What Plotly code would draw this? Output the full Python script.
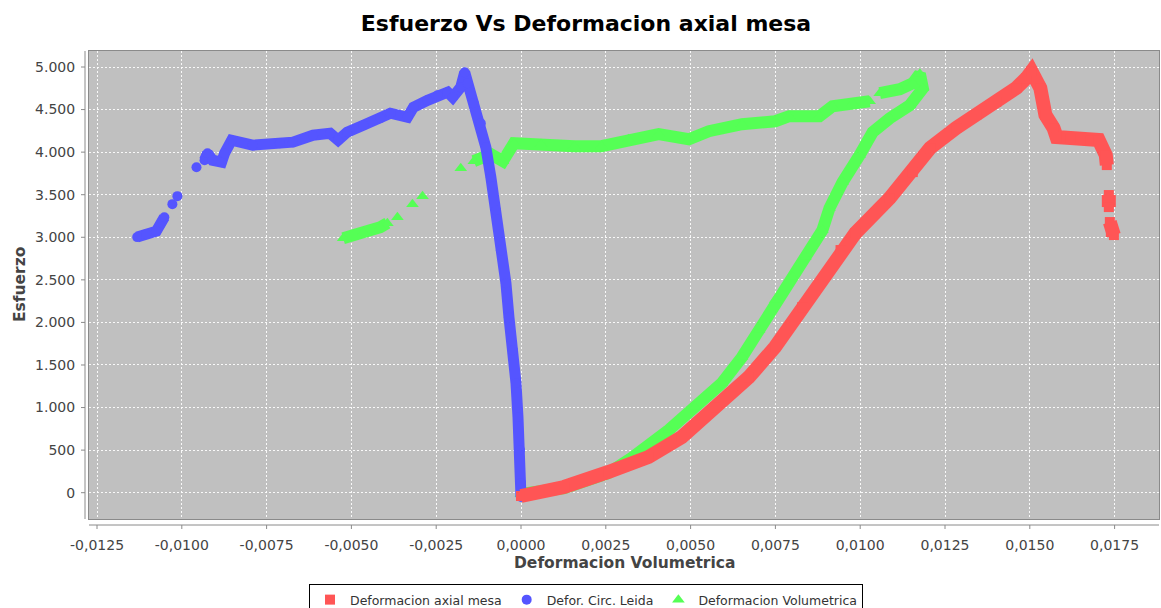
import plotly.graph_objects as go

# ---------------- data ----------------
# Series 1: Deformacion axial mesa (red squares)
red_x = [0.0, 0.00127, 0.00258, 0.00376, 0.00474, 0.00572, 0.00672, 0.00749,
         0.00829, 0.00942, 0.00986, 0.01087, 0.01155, 0.01206, 0.01283, 0.01342,
         0.01401, 0.01460, 0.01490, 0.01505, 0.01531, 0.01546, 0.01570, 0.01579,
         0.01620, 0.01680, 0.01703, 0.01724, 0.01727, None, 0.01733, 0.01733,
         None, 0.01736, 0.01739, 0.01748]
red_y = [-39, 67, 243, 419, 654, 1006, 1358, 1711,
         2180, 2850, 3050, 3461, 3766, 4048, 4283, 4436,
         4589, 4753, 4870, 4950, 4753, 4436, 4283, 4177,
         4166, 4142, 4142, 3966, 3848, None, 3496, 3355,
         None, 3179, 3062, 3026]

# Series 2: Defor. Circ. Leida (blue circles)
blue_x = [-0.011315, -0.011048, -0.010752, -0.010515, None,
          -0.010278, None, -0.010130, None, -0.009567, None,
          -0.009330, -0.009242, -0.009094, -0.008827, -0.008738, -0.008531,
          -0.007909, -0.007109, -0.006724, -0.006132, -0.005628, -0.005391,
          -0.005125, -0.004650, -0.004147, -0.003851, -0.003347, -0.003170,
          -0.002755, -0.002459, -0.002163, -0.002014, -0.001777, -0.001659,
          -0.001570, -0.001392, -0.001185, -0.001037, -0.000889, -0.000741,
          -0.000592, -0.000444, -0.000355, -0.000237, -0.000148, -0.000089,
          -0.000030, 0.0, 0.0]
blue_y = [3002, 3037, 3072, 3236, None,
          3389, None, 3483, None, 3823, None,
          3905, 3987, 3905, 3882, 3987, 4140,
          4082, 4105, 4117, 4199, 4222, 4140,
          4234, 4316, 4398, 4457, 4410, 4527,
          4609, 4668, 4704, 4645, 4762, 4938,
          4809, 4574, 4340, 4058, 3706, 3318,
          2848, 2461, 2062, 1674, 1288, 889,
          501, 114, -50]

# Series 3: Deformacion Volumetrica (green triangles)
green_x = [0.0, 0.001274, 0.002577, 0.003258, 0.004354, 0.005124, 0.005924,
           0.006516, 0.007020, 0.007494, 0.007997, 0.008383, 0.008886, 0.009094,
           0.009479, 0.009982, 0.010367, 0.010870, 0.011463, 0.011848, 0.011759,
           0.011552, 0.011167, 0.010575, None,
           0.010279, 0.009775, 0.009183, 0.008798, 0.007909, 0.007494, 0.006516,
           0.005539, 0.004947, 0.004058, 0.003169, 0.002370, 0.001570, 0.000592,
           -0.000207, -0.000533, -0.000889, -0.001392, None,
           -0.001777, None, -0.002903, None, -0.003199, None, -0.003643, None,
           -0.003939, -0.004147, -0.004650, -0.005243]
green_y = [-15, 55, 231, 407, 736, 1006, 1288,
           1593, 1910, 2262, 2532, 2767, 3084, 3342,
           3647, 3964, 4234, 4398, 4551, 4750, 4920,
           4809, 4739, 4692, None,
           4598, 4574, 4539, 4422, 4422, 4363, 4328,
           4246, 4152, 4211, 4152, 4070, 4070, 4093,
           4105, 3894, 3976, 3894, None,
           3812, None, 3483, None, 3389, None, 3236, None,
           3166, 3119, 3060, 2990]

x_tick_vals = [-0.0125, -0.0100, -0.0075, -0.0050, -0.0025, 0.0, 0.0025,
               0.0050, 0.0075, 0.0100, 0.0125, 0.0150, 0.0175]
x_tick_text = ["-0,0125", "-0,0100", "-0,0075", "-0,0050", "-0,0025", "0,0000",
               "0,0025", "0,0050", "0,0075", "0,0100", "0,0125", "0,0150", "0,0175"]
y_tick_vals = [0, 500, 1000, 1500, 2000, 2500, 3000, 3500, 4000, 4500, 5000]
y_tick_text = ["0", "500", "1.000", "1.500", "2.000", "2.500", "3.000",
               "3.500", "4.000", "4.500", "5.000"]

title_text = "Esfuerzo Vs Deformacion axial mesa"
x_title = "Deformacion Volumetrica"
y_title = "Esfuerzo"
names = ["Deformacion axial mesa", "Defor. Circ. Leida", "Deformacion Volumetrica"]

# ---------------- styling ----------------
RED = "#FF5555"
BLUE = "#5555FF"
GREEN = "#55FF55"
FONT = "DejaVu Sans"

fig = go.Figure()

# drawing order: green (bottom), blue, red (top) -- like JFreeChart reverse rendering
series = [
    (green_x, green_y, GREEN, "triangle-up", 12, 11, names[2], 3),
    (blue_x, blue_y, BLUE, "circle", 11, 10, names[1], 2),
    (red_x, red_y, RED, "square", 14, 10, names[0], 1),
]
for xs, ys, col, sym, lw, ms, nm, rank in series:
    fig.add_trace(go.Scatter(x=xs, y=ys, mode="lines", connectgaps=False,
                             line=dict(color=col, width=lw), showlegend=False,
                             hoverinfo="skip"))
    fig.add_trace(go.Scatter(x=xs, y=ys, mode="markers", name=nm, legendrank=rank,
                             marker=dict(color=col, symbol=sym, size=ms,
                                         line=dict(width=0))))

x_range = [-0.012736, 0.018809]
y_range = [-309, 5188]

fig.update_layout(
    width=1161, height=608,
    margin=dict(l=89, r=2, t=51, b=89, autoexpand=False),
    paper_bgcolor="white",
    plot_bgcolor="#C0C0C0",
    font=dict(family=FONT, color="#444444"),
    title=dict(text="<b>" + title_text + "</b>", x=586 / 1161, xanchor="center",
               xref="container", y=1 - 23 / 608, yanchor="middle", yref="container",
               font=dict(family=FONT, size=22, color="black")),
    showlegend=True,
    legend=dict(orientation="h", x=(586 - 89) / 1070, xanchor="center",
                y=-(584 - 519) / 468, yanchor="top",
                bgcolor="white", bordercolor="black", borderwidth=1,
                font=dict(family=FONT, size=12.5, color="#333333"),
                itemwidth=30, traceorder="normal"),
    xaxis=dict(range=x_range, tickvals=x_tick_vals, ticktext=x_tick_text,
               showgrid=True, gridcolor="rgba(255,255,255,0.9)", griddash="2px,2px",
               gridwidth=1, zeroline=False, showline=True, mirror=True,
               linecolor="#8a8a8a", linewidth=1, ticks="", ticklabelstandoff=13,
               tickfont=dict(family=FONT, size=14, color="#444444")),
    yaxis=dict(range=y_range, tickvals=y_tick_vals, ticktext=y_tick_text,
               showgrid=True, gridcolor="rgba(255,255,255,0.9)", griddash="2px,2px",
               gridwidth=1, zeroline=False, showline=True, mirror=True,
               linecolor="#8a8a8a", linewidth=1, ticks="", ticklabelstandoff=10,
               tickfont=dict(family=FONT, size=14, color="#444444")),
    annotations=[
        dict(text="<b>" + x_title + "</b>", xref="paper", yref="paper",
             x=0.5, y=-(563 - 519) / 468, xanchor="center", yanchor="middle",
             showarrow=False, font=dict(family=FONT, size=15.5, color="#444444")),
        dict(text="<b>" + y_title + "</b>", xref="paper", yref="paper",
             x=-(89 - 20) / 1070, y=0.5, xanchor="center", yanchor="middle",
             textangle=-90, showarrow=False,
             font=dict(family=FONT, size=15.5, color="#444444")),
    ],
)

# offset axis lines and small tick marks (JFreeChart style)
shapes = [
    dict(type="line", xref="paper", yref="paper", x0=0, x1=1,
         y0=-6 / 468, y1=-6 / 468, line=dict(color="#8a8a8a", width=1)),
    dict(type="line", xref="paper", yref="paper", x0=-4 / 1070, x1=-4 / 1070,
         y0=0, y1=1, line=dict(color="#8a8a8a", width=1)),
]
for v in x_tick_vals:
    shapes.append(dict(type="line", xref="x", yref="paper", x0=v, x1=v,
                       y0=-6 / 468, y1=-10 / 468, line=dict(color="#8a8a8a", width=1)))
for v in y_tick_vals:
    shapes.append(dict(type="line", xref="paper", yref="y", x0=-4 / 1070, x1=-8 / 1070,
                       y0=v, y1=v, line=dict(color="#8a8a8a", width=1)))
fig.update_layout(shapes=shapes)

fig.write_html("out.html",
               config={"displayModeBar": False},
               post_script="document.body.style.margin='0px';"
                           "document.body.style.overflow='hidden';")
